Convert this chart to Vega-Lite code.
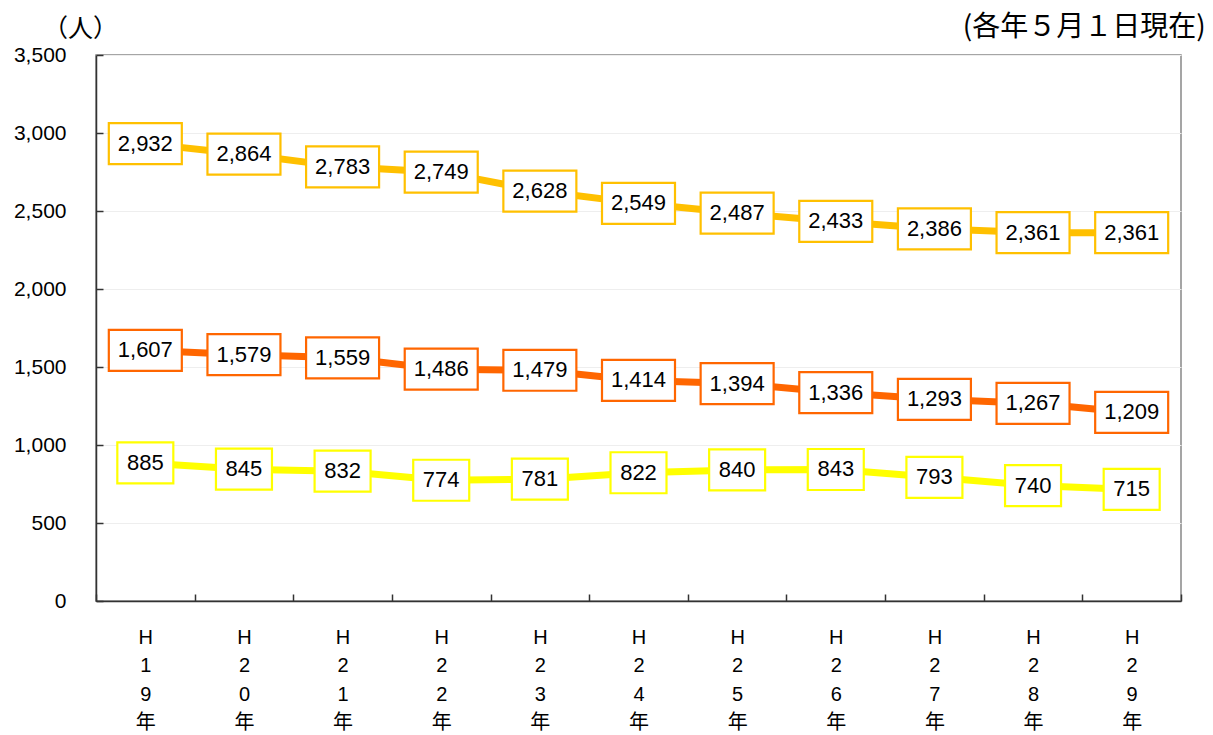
{
  "$schema": "https://vega.github.io/schema/vega-lite/v6.json",
  "width": 1085,
  "height": 546,
  "autosize": "none",
  "padding": {"left": 96, "top": 55, "right": 32, "bottom": 134},
  "background": "white",
  "title": {"text": "(各年５月１日現在)", "anchor": "end", "fontSize": 28, "fontWeight": "normal", "font": "Noto Sans CJK JP", "color": "black", "offset": 14, "dx": 24, "dy": 40},
  "config": {
    "view": {"stroke": "#888888", "strokeWidth": 1.5},
    "font": "Liberation Sans, Noto Sans CJK JP"
  },
  "data": {"values": [
    {"year": "H19年", "series": "A", "value": 2932},
    {"year": "H20年", "series": "A", "value": 2864},
    {"year": "H21年", "series": "A", "value": 2783},
    {"year": "H22年", "series": "A", "value": 2749},
    {"year": "H23年", "series": "A", "value": 2628},
    {"year": "H24年", "series": "A", "value": 2549},
    {"year": "H25年", "series": "A", "value": 2487},
    {"year": "H26年", "series": "A", "value": 2433},
    {"year": "H27年", "series": "A", "value": 2386},
    {"year": "H28年", "series": "A", "value": 2361},
    {"year": "H29年", "series": "A", "value": 2361},
    {"year": "H19年", "series": "B", "value": 1607},
    {"year": "H20年", "series": "B", "value": 1579},
    {"year": "H21年", "series": "B", "value": 1559},
    {"year": "H22年", "series": "B", "value": 1486},
    {"year": "H23年", "series": "B", "value": 1479},
    {"year": "H24年", "series": "B", "value": 1414},
    {"year": "H25年", "series": "B", "value": 1394},
    {"year": "H26年", "series": "B", "value": 1336},
    {"year": "H27年", "series": "B", "value": 1293},
    {"year": "H28年", "series": "B", "value": 1267},
    {"year": "H29年", "series": "B", "value": 1209},
    {"year": "H19年", "series": "C", "value": 885},
    {"year": "H20年", "series": "C", "value": 845},
    {"year": "H21年", "series": "C", "value": 832},
    {"year": "H22年", "series": "C", "value": 774},
    {"year": "H23年", "series": "C", "value": 781},
    {"year": "H24年", "series": "C", "value": 822},
    {"year": "H25年", "series": "C", "value": 840},
    {"year": "H26年", "series": "C", "value": 843},
    {"year": "H27年", "series": "C", "value": 793},
    {"year": "H28年", "series": "C", "value": 740},
    {"year": "H29年", "series": "C", "value": 715}
  ]},
  "encoding": {
    "x": {
      "field": "year", "type": "ordinal", "sort": null,
      "scale": {"paddingInner": 0, "paddingOuter": 0},
      "axis": {
        "title": null, "labelAngle": 0, "labelExpr": "isValid(datum.value) ? split(datum.value, '') : ''",
        "labelLineHeight": 28.5, "labelFontSize": 20, "labelColor": "black", "labelPadding": 33,
        "labelBaseline": "top",
        "tickBand": "extent", "tickSize": -7, "tickColor": "#333333", "tickWidth": 1.5,
        "domainColor": "#333333", "domainWidth": 1.5, "grid": false
      }
    },
    "y": {
      "field": "value", "type": "quantitative",
      "scale": {"domain": [0, 3500], "nice": false},
      "axis": {
        "values": [0, 500, 1000, 1500, 2000, 2500, 3000, 3500],
        "format": ",d", "labelFontSize": 21, "labelColor": "black", "labelPadding": 37,
        "tickSize": -7, "tickColor": "#333333", "tickWidth": 1.5,
        "domainColor": "#333333", "domainWidth": 1.5,
        "grid": true, "gridColor": "#eeeeee", "gridWidth": 1,
        "title": "（人）", "titleAngle": 0, "titleX": -16, "titleY": -27,
        "titleAlign": "center", "titleBaseline": "middle", "titleFontSize": 25,
        "titleFont": "Noto Sans CJK JP",
        "titleFontWeight": "normal", "titleColor": "black"
      }
    }
  },
  "layer": [
    {
      "mark": {"type": "line", "strokeWidth": 7},
      "encoding": {
        "color": {"field": "series", "type": "nominal", "legend": null,
          "scale": {"domain": ["A", "B", "C"], "range": ["#FFC000", "#FF6600", "#FFFF00"]}}
      }
    },
    {
      "mark": {"type": "point", "fill": "white", "fillOpacity": 1, "strokeWidth": 2.2, "opacity": 1, "strokeOpacity": 1},
      "encoding": {
        "stroke": {"field": "series", "type": "nominal", "legend": null,
          "scale": {"domain": ["A", "B", "C"], "range": ["#FFC000", "#FF6600", "#FFFF00"]}},
        "shape": {"condition": {"test": "datum.value >= 1000", "value": "M-1,-0.5616L1,-0.5616L1,0.5616L-1,0.5616Z"}, "value": "M-1,-0.732L1,-0.732L1,0.732L-1,0.732Z"},
        "size": {"condition": {"test": "datum.value >= 1000", "value": 5329}, "value": 3136}
      }
    },
    {
      "mark": {"type": "text", "fontSize": 22, "color": "black", "baseline": "middle", "align": "center"},
      "encoding": {
        "text": {"field": "value", "type": "quantitative", "format": ","}
      }
    }
  ]
}
